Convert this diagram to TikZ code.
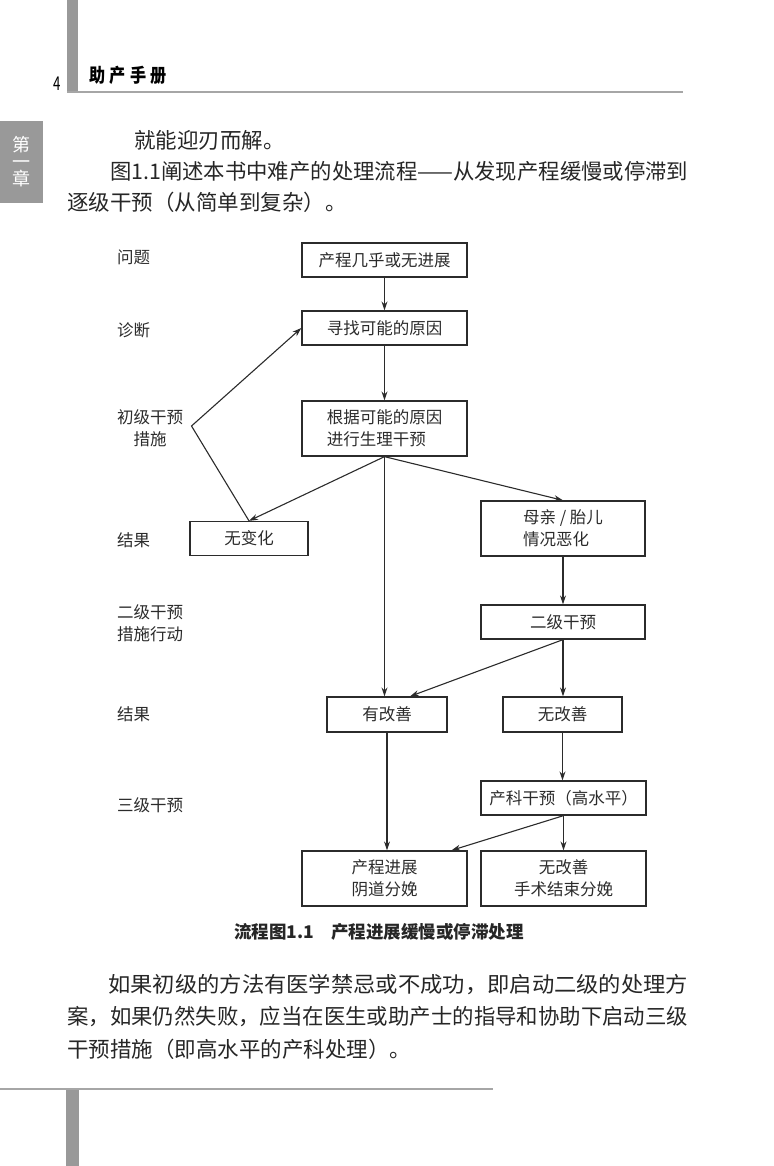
\documentclass[tikz,border=0pt]{standalone}
\usepackage{fontspec}
\usepackage{graphicx}
\setmainfont{Noto Sans CJK SC}
\newfontfamily\hei{Noto Sans CJK SC}
\usetikzlibrary{arrows.meta}
\definecolor{barGray}{HTML}{999999}
\definecolor{ruleGray}{HTML}{A6A6A6}
\definecolor{inkGray}{HTML}{2B2B2B}
\newcommand{\fullline}[2]{\resizebox{#1}{\height}{#2}}

\begin{document}
\begin{tikzpicture}[x=1pt,y=-1pt,
    box/.style={draw=inkGray, line width=1.3pt, minimum height=34pt, inner sep=2pt,
        font=\fontsize{16.5}{22}\selectfont, text=inkGray},
    tallbox/.style={box, minimum height=55pt},
    tag/.style={anchor=west, inner sep=0pt, font=\fontsize{16.5}{22}\selectfont, text=inkGray},
    flow/.style={-{Stealth[length=9pt,width=6pt]}, line width=1.1pt, draw=inkGray},
    body/.style={anchor=west, inner sep=0pt, font=\fontsize{21.5}{26}\selectfont, text=black!85}]
    \useasboundingbox (0,0) rectangle (773,1166);

    % page head
    \fill[barGray] (67,0) rectangle (78,92);
    \draw[ruleGray, line width=1.2pt] (67,92) -- (683,92);
    \node[inner sep=0pt] (pageNo) at (57.5,84) {\hei\fontsize{19}{19}\selectfont\scalebox{0.7}[1]{4}};
    \node[inner sep=0pt] (runHead) at (128,75) {\hei\bfseries\fontsize{19}{19}\selectfont\scalebox{0.85}[1]{助\hspace{5pt}产\hspace{5pt}手\hspace{5pt}册}};
    \fill[barGray] (0,121) rectangle (43,203);
    \node[align=center, text=white, inner sep=0pt, font=\hei\fontsize{18}{17}\selectfont] (chapTab) at (21.5,162) {第\\一\\章};

    % text above the chart
    \node[body] (pOneA) at (134,140) {就能迎刃而解。};
    \node[body] (pOneB) at (110,171) {\fullline{578pt}{图1.1阐述本书中难产的处理流程——从发现产程缓慢或停滞到}};
    \node[body] (pOneC) at (67,202) {逐级干预（从简单到复杂）。};

    % row labels
    \node[tag] (tProb) at (117,257) {问题};
    \node[tag] (tDiag) at (117,330) {诊断};
    \node[tag, align=center] (tFirst) at (117,428) {初级干预\\措施};
    \node[tag] (tResA) at (117,540) {结果};
    \node[tag, align=left] (tSecond) at (117,623) {二级干预\\措施行动};
    \node[tag] (tResB) at (117,714) {结果};
    \node[tag] (tThird) at (117,805) {三级干预};

    % boxes
    \node[box, minimum width=165pt] (prob) at (384.5,260) {产程几乎或无进展};
    \node[box, minimum width=165pt] (cause) at (384.5,328) {寻找可能的原因};
    \node[tallbox, minimum width=165pt, align=left] (phys) at (384.5,428.5) {根据可能的原因\\进行生理干预};
    \node[box, minimum width=118pt] (nochg) at (249,538.5) {无变化};
    \node[tallbox, minimum width=164pt, align=left] (worse) at (563,528.5) {母亲 / 胎儿\\情况恶化};
    \node[box, minimum width=164pt] (second) at (563,622) {二级干预};
    \node[box, minimum width=120pt, minimum height=35pt] (better) at (387,714.5) {有改善};
    \node[box, minimum width=119pt, minimum height=35pt] (noimp) at (562.5,714.5) {无改善};
    \node[box, minimum width=165pt] (obst) at (563.5,798) {产科干预（高水平）};
    \node[tallbox, minimum width=165pt, align=center] (vag) at (384.5,878.5) {产程进展\\阴道分娩};
    \node[tallbox, minimum width=165pt, align=center] (surg) at (563.5,878.5) {无改善\\手术结束分娩};
    \coordinate (loop) at (191.5,426);

    % connectors
    \draw[flow] (prob) -- (cause);
    \draw[flow] (cause) -- (phys);
    \draw[flow] (phys.south) -- (nochg.north);
    \draw[flow] (phys.south) -- (worse.north);
    \draw[flow] (phys.south) -- (phys.south |- better.north);
    \draw[flow] (nochg.north) -- (loop) -- (cause.west);
    \draw[flow] (worse) -- (second);
    \draw[flow] (second.south) -- ([xshift=23pt]better.north);
    \draw[flow] (second.south) -- (second.south |- noimp.north);
    \draw[flow] (noimp.south) -- (noimp.south |- obst.north);
    \draw[flow] (better.south) -- (better.south |- vag.north);
    \draw[flow] (obst.south) -- ([xshift=67pt]vag.north);
    \draw[flow] (obst.south) -- (obst.south |- surg.north);

    \node[font=\hei\bfseries\fontsize{17.5}{17.5}\selectfont, text=black!85] (figCap) at (379,932) {流程图1.1\hspace{1em}产程进展缓慢或停滞处理};

    % text below the chart
    \node[body] (pTwoA) at (108,985) {\fullline{580pt}{如果初级的方法有医学禁忌或不成功，即启动二级的处理方}};
    \node[body] (pTwoB) at (67,1017) {\fullline{621pt}{案，如果仍然失败，应当在医生或助产士的指导和协助下启动三级}};
    \node[body] (pTwoC) at (67,1049) {干预措施（即高水平的产科处理）。};

    % page foot
    \draw[ruleGray, line width=1.2pt] (0,1089) -- (493,1089);
    \fill[barGray] (66,1090) rectangle (79,1166);
\end{tikzpicture}
\end{document}
